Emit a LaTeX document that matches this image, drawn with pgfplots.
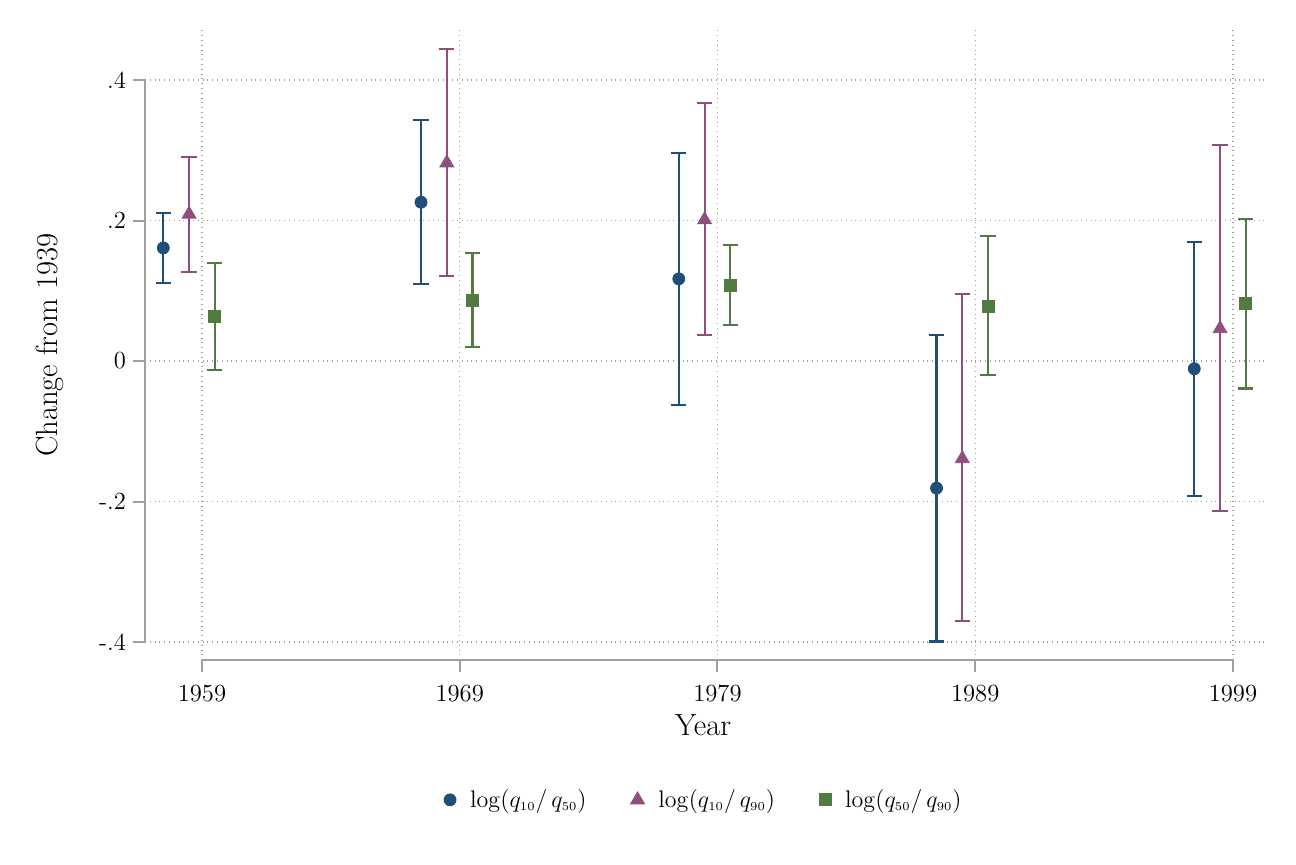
\documentclass[border=0pt]{standalone}
\usepackage{pgfplots}
\pgfplotsset{compat=1.18}
\usepackage{pgfplotstable}
\definecolor{cblue}{HTML}{1F4E79}
\definecolor{cmauve}{HTML}{8F4F7D}
\definecolor{cgreen}{HTML}{527A43}
\definecolor{axgray}{HTML}{A0A0A0}
\pgfplotstableread{
x y lo hi
1957.5 0.161 0.111 0.211
1967.5 0.226 0.110 0.343
1977.5 0.117 -0.063 0.296
1987.5 -0.181 -0.399 0.037
1997.5 -0.011 -0.192 0.169
}\sone
\pgfplotstableread{
x y lo hi
1958.5 0.209 0.127 0.290
1968.5 0.282 0.121 0.444
1978.5 0.201 0.037 0.367
1988.5 -0.139 -0.370 0.095
1998.5 0.046 -0.214 0.307
}\stwo
\pgfplotstableread{
x y lo hi
1959.5 0.063 -0.013 0.139
1969.5 0.086 0.020 0.154
1979.5 0.108 0.051 0.165
1989.5 0.078 -0.020 0.178
1999.5 0.082 -0.039 0.202
}\sthree
\begin{document}
\begin{tikzpicture}
\path[use as bounding box] (-72.5pt,-102.5pt) rectangle (575.5pt,330pt);
\begin{axis}[
  at={(0pt,0pt)}, anchor=south west,
  scale only axis, width=561.5pt, height=315pt,
  xmin=1956.79, xmax=2000.36, ymin=-0.4256, ymax=0.4712,
  axis line style={draw=none},
  xtick={1959,1969,1979,1989,1999},
  xticklabels={1959,1969,1979,1989,1999},
  ytick={-0.4,-0.2,0,0.2,0.4},
  yticklabels={-.4,-.2,0,.2,.4},
  tick style={draw=none},
  grid=major,
  major grid style={draw=axgray, dotted, line width=0.6pt},
  xticklabel style={yshift=-9pt, font=\fontsize{12.3}{14}\selectfont},
  yticklabel style={xshift=-6pt, font=\fontsize{12.3}{14}\selectfont},
  xlabel={Year}, ylabel={Change from 1939},
  label style={font=\fontsize{15.3}{17}\selectfont},
  xlabel style={at={(axis description cs:0.497,0)}, anchor=center, yshift=-32.5pt},
  ylabel style={at={(axis description cs:0,0.5)}, anchor=center, yshift=47.5pt},
  clip=false,
  legend style={at={(0.4985,-0.222)}, anchor=center, draw=none, fill=none,
    font=\fontsize{12}{14}\selectfont,
    /tikz/every even column/.append style={column sep=20pt},
    /tikz/every odd column/.append style={column sep=5pt}},
  legend columns=3,
  legend cell align=left,
  error bars/y dir=both, error bars/y explicit,
]
% axis lines
\draw[axgray, line width=1pt] (axis cs:1956.79,-0.4) -- (axis cs:1956.79,0.4);
\draw[axgray, line width=1pt] (axis cs:1959,-0.4256) -- (axis cs:1999,-0.4256);
\draw[axgray, line width=1pt] (axis cs:1956.79,-0.4) -- ++(-6pt,0pt);
\draw[axgray, line width=1pt] (axis cs:1956.79,-0.2) -- ++(-6pt,0pt);
\draw[axgray, line width=1pt] (axis cs:1956.79,0) -- ++(-6pt,0pt);
\draw[axgray, line width=1pt] (axis cs:1956.79,0.2) -- ++(-6pt,0pt);
\draw[axgray, line width=1pt] (axis cs:1956.79,0.4) -- ++(-6pt,0pt);
\draw[axgray, line width=1pt] (axis cs:1959,-0.4256) -- ++(0pt,-6pt);
\draw[axgray, line width=1pt] (axis cs:1969,-0.4256) -- ++(0pt,-6pt);
\draw[axgray, line width=1pt] (axis cs:1979,-0.4256) -- ++(0pt,-6pt);
\draw[axgray, line width=1pt] (axis cs:1989,-0.4256) -- ++(0pt,-6pt);
\draw[axgray, line width=1pt] (axis cs:1999,-0.4256) -- ++(0pt,-6pt);

\addplot[only marks, color=cblue, mark=*, mark size=3pt,
  error bars/error bar style={line width=1.2pt, color=cblue},
  error bars/error mark options={rotate=90, mark size=3.8pt, line width=1.2pt, color=cblue}]
  table[x=x, y=y, y error plus expr=\thisrow{hi}-\thisrow{y}, y error minus expr=\thisrow{y}-\thisrow{lo}] {\sone};
\addlegendentry{$\log(q_{\scriptscriptstyle 10}/\,q_{\scriptscriptstyle 50})$}
\addplot[only marks, color=cmauve, mark=triangle*, mark size=4pt,
  error bars/error bar style={line width=1pt, color=cmauve},
  error bars/error mark options={rotate=90, mark size=3.8pt, line width=1pt, color=cmauve}]
  table[x=x, y=y, y error plus expr=\thisrow{hi}-\thisrow{y}, y error minus expr=\thisrow{y}-\thisrow{lo}] {\stwo};
\addlegendentry{$\log(q_{\scriptscriptstyle 10}/\,q_{\scriptscriptstyle 90})$}
\addplot[only marks, color=cgreen, mark=square*, mark size=3pt,
  error bars/error bar style={line width=1.1pt, color=cgreen},
  error bars/error mark options={rotate=90, mark size=3.8pt, line width=1.1pt, color=cgreen}]
  table[x=x, y=y, y error plus expr=\thisrow{hi}-\thisrow{y}, y error minus expr=\thisrow{y}-\thisrow{lo}] {\sthree};
\addlegendentry{$\log(q_{\scriptscriptstyle 50}/\,q_{\scriptscriptstyle 90})$}
\end{axis}
\end{tikzpicture}
\end{document}
